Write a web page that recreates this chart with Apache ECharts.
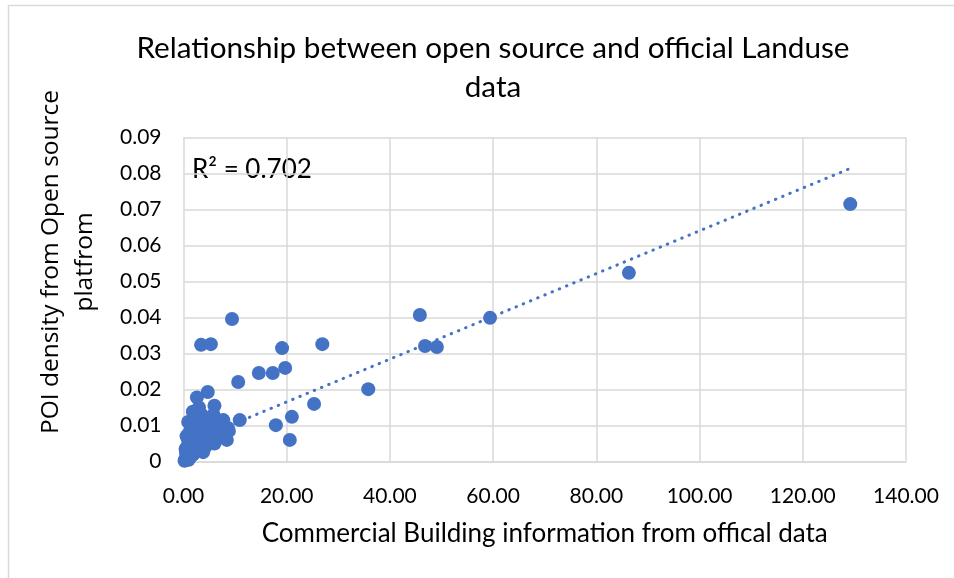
<!DOCTYPE html>
<html>
<head>
<meta charset="utf-8">
<script src="https://cdn.jsdelivr.net/npm/echarts@6/dist/echarts.min.js"></script>
<style>html,body{margin:0;padding:0;background:#fff}#c{width:954px;height:578px}</style>
</head>
<body>
<div id="c"></div>
<script>
// Commercial building info (official) vs POI density (open source)
const xValues = [129.2, 86.3, 59.4, 45.8, 46.8, 49.1, 26.9, 35.8, 25.3, 21.0, 20.6, 17.9, 19.7, 19.1, 17.3, 14.6, 10.6, 10.9, 9.4, 3.4, 5.3,
  4.7, 2.6, 6.0, 8.4, 3.8, 1.8, 8.6, 7.7, 0.3, 0.5, 0.6, 0.8, 1.0, 0.4, 0.7, 1.2, 0.9, 1.5, 0.6, 1.1, 1.8, 2.0, 1.4, 0.9, 2.3,
  3.0, 3.5, 4.0, 2.8, 3.2, 4.5, 5.0, 5.5, 6.5, 6.0, 4.2, 2.5, 1.9, 0.2, 1.3, 3.6, 2.2, 7.0, 1.0, 0.5, 5.8, 8.8, 6.8];
const yValues = [0.0715, 0.0524, 0.0399, 0.0407, 0.0321, 0.0318, 0.0326, 0.0201, 0.0160, 0.0124, 0.0060, 0.0101, 0.0260, 0.0315, 0.0246, 0.0246, 0.0221, 0.0115, 0.0396, 0.0324, 0.0326,
  0.0193, 0.0178, 0.0155, 0.0060, 0.0026, 0.0138, 0.0093, 0.0115, 0.0005, 0.0010, 0.0020, 0.0015, 0.0030, 0.0035, 0.0040, 0.0050, 0.0060, 0.0055, 0.0070, 0.0080, 0.0070, 0.0090, 0.0100, 0.0110, 0.0120,
  0.0150, 0.0130, 0.0110, 0.0100, 0.0080, 0.0090, 0.0070, 0.0100, 0.0110, 0.0050, 0.0040, 0.0030, 0.0020, 0.0002, 0.0012, 0.0060, 0.0045, 0.0080, 0.0005, 0.0025, 0.0130, 0.0085, 0.0065];
const xTicks = [0, 20, 40, 60, 80, 100, 120, 140];
const yTicks = [0, 0.01, 0.02, 0.03, 0.04, 0.05, 0.06, 0.07, 0.08, 0.09];
const trendCoef = [0.00468, 0.000594]; // intercept, slope
const rSquaredText = ['R² = 0.702'];
const titleLines = ['Relationship between open source and official Landuse', 'data'];
const xAxisTitle = ['Commercial Building information from offical data'];
const yAxisTitle = ['POI density from Open source', 'platfrom'];

const points = xValues.map((x, i) => [x, yValues[i]]);
const xMin = Math.min(...xValues), xMax = Math.max(...xValues);
const trend = [[xMin, trendCoef[0] + trendCoef[1] * xMin], [xMax, trendCoef[0] + trendCoef[1] * xMax]];

const chart = echarts.init(document.getElementById('c'), null, {renderer: 'canvas'});
const font = 'Lato';
const yFont = 'Open Sans';
chart.setOption({
  backgroundColor: '#fff',
  animation: false,
  title: {
    text: titleLines.join('\n'),
    left: 488, top: 24, textAlign: 'center',
    textStyle: {fontFamily: font, fontSize: 29.7, fontWeight: 'normal', color: '#000', lineHeight: 39}
  },
  grid: {left: 183.5, right: 48, top: 137.5, bottom: 116.5},
  xAxis: {
    type: 'value', min: xTicks[0], max: xTicks[xTicks.length - 1], interval: 20,
    axisLine: {show: true, lineStyle: {color: '#d9d9d9', width: 1.5}},
    axisTick: {show: false},
    splitLine: {show: true, lineStyle: {color: '#d9d9d9', width: 1.5}},
    axisLabel: {margin: 24, fontFamily: font, fontSize: 21, color: '#000', formatter: v => v.toFixed(2)},
    name: xAxisTitle[0], nameLocation: 'middle', nameGap: 59,
    nameTextStyle: {fontFamily: font, fontSize: 26, color: '#000'}
  },
  yAxis: {
    type: 'value', min: yTicks[0], max: yTicks[yTicks.length - 1], interval: 0.01,
    axisLine: {show: false}, axisTick: {show: false},
    splitLine: {show: true, lineStyle: {color: '#d9d9d9', width: 1.5}},
    axisLabel: {margin: 22, fontFamily: font, fontSize: 21, color: '#000', formatter: v => v === 0 ? '0' : v.toFixed(2)}
  },
  graphic: [
    {type: 'rect', shape: {x: 8.5, y: 5.5, width: 1000, height: 1000}, style: {fill: 'none', stroke: '#d9d9d9', lineWidth: 1.5}, z: -10, silent: true},
    {type: 'text', x: 192, y: 170, style: {text: rSquaredText[0], fontFamily: font, fontSize: 26, fill: '#000', textVerticalAlign: 'middle'}},
    {type: 'text', x: 51, y: 262, rotation: Math.PI / 2, style: {text: yAxisTitle[0], fontFamily: yFont, fontSize: 24.5, fill: '#000', textAlign: 'center', textVerticalAlign: 'middle'}},
    {type: 'text', x: 85, y: 262, rotation: Math.PI / 2, style: {text: yAxisTitle[1], fontFamily: yFont, fontSize: 24.5, fill: '#000', textAlign: 'center', textVerticalAlign: 'middle'}}
  ],
  series: [
    {type: 'scatter', data: points, symbolSize: 14, itemStyle: {color: '#4472c4', opacity: 1}, z: 3},
    {type: 'line', data: trend, symbol: 'none', z: 4,
      lineStyle: {color: '#4472c4', width: 3, type: [0.5, 7.3], cap: 'round'}}
  ]
});
</script>
</body>
</html>
